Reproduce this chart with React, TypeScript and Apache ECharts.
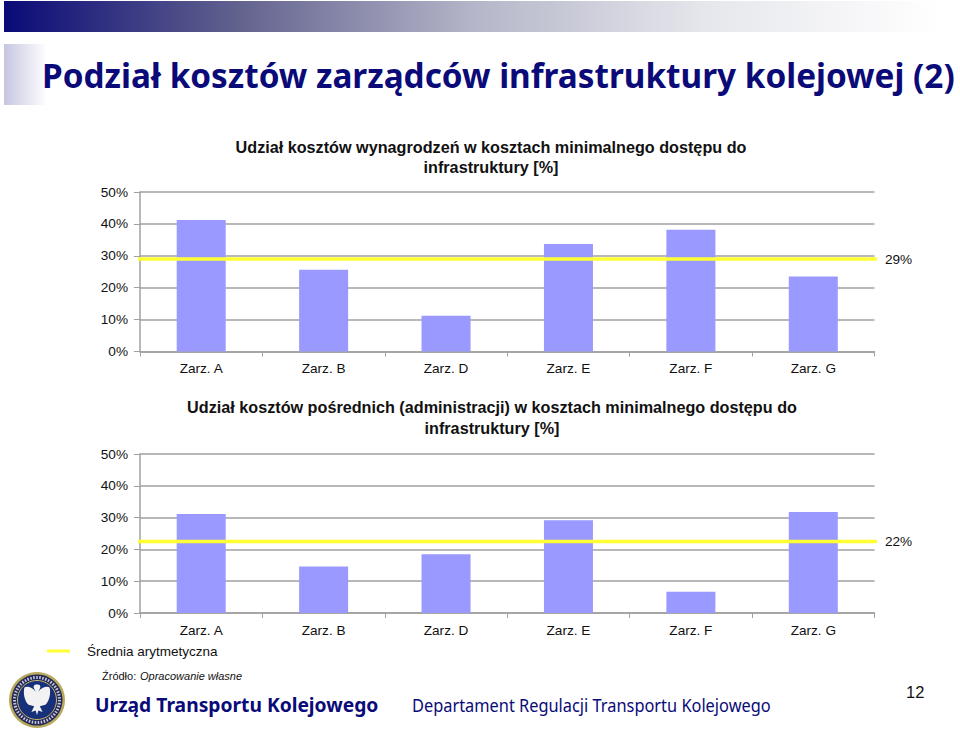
import React, { useEffect, useRef } from "react";
import * as echarts from "echarts";

const categories = ["Zarz. A", "Zarz. B", "Zarz. D", "Zarz. E", "Zarz. F", "Zarz. G"];
const wages = [41.2, 25.6, 11.2, 33.7, 38.2, 23.5];
const overheads = [31.1, 14.6, 18.5, 29.2, 6.7, 31.8];
const wagesMean = 29;
const overheadsMean = 22.5;
const wagesMeanLabel = "29%";
const overheadsMeanLabel = "22%";
const wagesTitle = "Udział kosztów wynagrodzeń w kosztach minimalnego dostępu do\ninfrastruktury [%]";
const overheadsTitle = "Udział kosztów pośrednich (administracji) w kosztach minimalnego dostępu do\ninfrastruktury [%]";
const pageTitle = "Podział kosztów zarządców infrastruktury kolejowej (2)";
const legendLabel = "Średnia arytmetyczna";
const sourcePrefix = "Źródło: ";
const sourceText = "Opracowanie własne";
const footerLeft = "Urząd Transportu Kolejowego";
const footerRight = "Departament Regulacji Transportu Kolejowego";
const pageNumber = "12";

const NAVY = "#0a0a78";
const GREY = "#a0a0a0";
const BAR = "#9999ff";
const YELLOW = "#ffff33";
const SANS = "'Liberation Sans', Arial, sans-serif";
const HEAD = "'Noto Sans', sans-serif";

const eagle = "M0 -10 C2 -10 3 -9 2 -7 L1 -5 C3 -8 7 -9 9 -8 C10 -4 9 1 6 4 L2 5 L4 9 L1 8 L0 11 L-1 8 L-4 9 L-2 5 L-6 4 C-9 1 -10 -4 -9 -8 C-7 -9 -3 -8 -1 -5 L-2 -7 C-3 -9 -2 -10 0 -10 Z";
echarts.graphic.registerShape("eagle", echarts.graphic.extendPath(eagle, {}) as any);

function grid(top: number, bottom: number) {
  return { left: 140, right: 960 - 874.5, top, height: bottom - top };
}

export default function App() {
  const ref = useRef<HTMLDivElement>(null);
  useEffect(() => {
    const chart = echarts.init(ref.current!, undefined, { renderer: "svg" });
    const tops = [192, 454];
    const bottoms = [351.5, 613];
    const yAxes = [0, 1].map((i) => ({
      type: "value",
      gridIndex: i,
      min: 0,
      max: 50,
      interval: 10,
      axisLine: { show: true, lineStyle: { color: GREY, width: 1.5 } },
      axisTick: { show: true, length: 6, lineStyle: { color: GREY } },
      splitLine: { show: true, lineStyle: { color: GREY, width: 1.5 } },
      axisLabel: { color: "#111", fontFamily: SANS, fontSize: 13.6, margin: 12, formatter: "{value}%" },
    }));
    const xCats = [0, 1].map((i) => ({
      type: "category",
      gridIndex: i,
      data: categories,
      axisLine: { show: true, lineStyle: { color: GREY, width: 1.5 } },
      axisTick: { show: true, alignWithLabel: false, length: 5, lineStyle: { color: GREY } },
      axisLabel: { color: "#111", fontFamily: SANS, fontSize: 13.6, margin: 10 },
    }));
    const xVals = [0, 1].map((i) => ({ type: "value", gridIndex: i, min: 0, max: 1, show: false }));
    const bars = [wages, overheads].map((d, i) => ({
      type: "bar",
      xAxisIndex: i,
      yAxisIndex: i,
      data: d,
      barWidth: 49,
      itemStyle: { color: BAR },
    }));
    const lines = [wagesMean, overheadsMean].map((m, i) => ({
      type: "line",
      xAxisIndex: 2 + i,
      yAxisIndex: i,
      data: [[-0.004, m], [1.007, m]],
      symbol: "none",
      clip: false,
      lineStyle: { color: YELLOW, width: 3.5 },
      z: 5,
    }));
    chart.setOption({
      animation: false,
      backgroundColor: "#ffffff",
      grid: [grid(tops[0], bottoms[0]), grid(tops[1], bottoms[1])],
      xAxis: [...xCats, ...xVals],
      yAxis: yAxes,
      series: [...bars, ...lines],
      graphic: [
        {
          type: "rect", shape: { x: 4, y: 1, width: 936, height: 31 },
          style: {
            fill: new echarts.graphic.LinearGradient(0, 0, 1, 0, [
              { offset: 0, color: "#0a0a78" },
              { offset: 0.25, color: "#62628f" },
              { offset: 0.5, color: "#b4b5c8" },
              { offset: 0.75, color: "#e6e7ec" },
              { offset: 1, color: "#ffffff" },
            ]),
          },
        },
        {
          type: "rect", shape: { x: 4, y: 44, width: 43, height: 61 },
          style: { fill: new echarts.graphic.LinearGradient(0, 0, 1, 0, [{ offset: 0, color: "#c6c6e2" }, { offset: 1, color: "#ffffff" }]) },
        },
        { type: "text", x: 42, y: 75, style: { text: pageTitle, fill: NAVY, font: `bold 33.3px ${HEAD}`, verticalAlign: "middle" } },
        { type: "text", x: 491, y: 157, style: { text: wagesTitle, fill: "#111", font: `bold 16.2px ${SANS}`, align: "center", verticalAlign: "middle", lineHeight: 20 } },
        { type: "text", x: 492, y: 417, style: { text: overheadsTitle, fill: "#111", font: `bold 16.2px ${SANS}`, align: "center", verticalAlign: "middle", lineHeight: 21 } },
        { type: "text", x: 885, y: 259, style: { text: wagesMeanLabel, fill: "#111", font: `13.6px ${SANS}`, verticalAlign: "middle" } },
        { type: "text", x: 885, y: 541, style: { text: overheadsMeanLabel, fill: "#111", font: `13.6px ${SANS}`, verticalAlign: "middle" } },
        { type: "line", shape: { x1: 47, y1: 651, x2: 70, y2: 651 }, style: { stroke: YELLOW, lineWidth: 3 } },
        { type: "text", x: 87, y: 651, style: { text: legendLabel, fill: "#111", font: `13.5px ${SANS}`, verticalAlign: "middle" } },
        { type: "text", x: 102, y: 676, style: { text: sourcePrefix, fill: "#111", font: `11px ${SANS}`, verticalAlign: "middle" } },
        { type: "text", x: 140, y: 676, style: { text: sourceText, fill: "#111", font: `italic 11px ${SANS}`, verticalAlign: "middle" } },
        { type: "text", x: 95, y: 704, scaleX: 0.962, style: { text: footerLeft, fill: NAVY, font: `bold 20px ${HEAD}`, verticalAlign: "middle" } },
        { type: "text", x: 412, y: 705, scaleX: 0.91, style: { text: footerRight, fill: NAVY, font: `18px ${HEAD}`, verticalAlign: "middle" } },
        { type: "text", x: 906, y: 692, style: { text: pageNumber, fill: "#111", font: `16.5px ${SANS}`, verticalAlign: "middle" } },
        { type: "circle", shape: { cx: 37, cy: 700, r: 28 }, style: { fill: "#b9a95a" } },
        { type: "circle", shape: { cx: 37, cy: 700, r: 25.5 }, style: { fill: "#23285a" } },
        { type: "circle", shape: { cx: 37, cy: 700, r: 22.5 }, style: { fill: "none", stroke: "#c9cbd8", lineWidth: 3, lineDash: [1.5, 1.5] } },
        { type: "circle", shape: { cx: 37, cy: 700, r: 19.5 }, style: { fill: "#17307a", stroke: "#c8b96a", lineWidth: 1 } },
        { type: "eagle", x: 37, y: 699, scaleX: 1.4, scaleY: 1.45, style: { fill: "#f2f2f2" } },
      ],
    });
    return () => chart.dispose();
  }, []);
  return <div ref={ref} style={{ position: "fixed", left: 0, top: 0, width: 960, height: 732 }} />;
}
